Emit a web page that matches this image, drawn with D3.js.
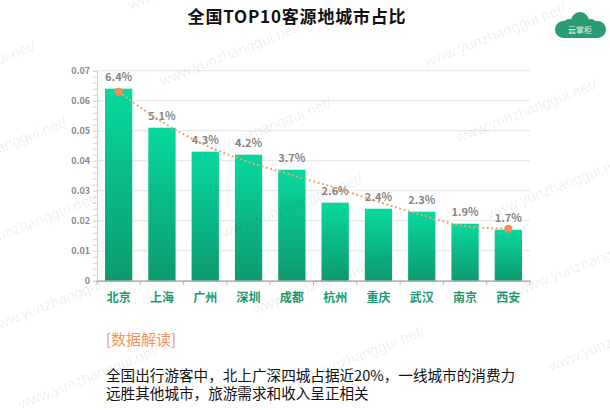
<!DOCTYPE html>
<html>
<head>
<meta charset="utf-8">
<script src="https://cdn.jsdelivr.net/npm/d3@7"></script>
<style>
  body { margin: 0; background: #fff; }
  svg { display: block; font-family: "Noto Sans CJK SC", "Noto Sans", sans-serif; }
</style>
</head>
<body>
<div id="chart"></div>
<script>
// data
var cities = ["北京", "上海", "广州", "深圳", "成都", "杭州", "重庆", "武汉", "南京", "西安"];
var shares = [0.064, 0.051, 0.043, 0.042, 0.037, 0.026, 0.024, 0.023, 0.019, 0.017];
var shareLabels = ["6.4%", "5.1%", "4.3%", "4.2%", "3.7%", "2.6%", "2.4%", "2.3%", "1.9%", "1.7%"];
// dotted trend line (estimated from the curve)
var trend = [0.063, 0.053, 0.0452, 0.0396, 0.0352, 0.031, 0.0263, 0.0219, 0.0182, 0.0173];
var yTicks = [0, 0.01, 0.02, 0.03, 0.04, 0.05, 0.06, 0.07];
var yTickLabels = ["0", "0.01", "0.02", "0.03", "0.04", "0.05", "0.06", "0.07"];

var title = "全国TOP10客源地城市占比";
var noteTitle = "[数据解读]";
var noteLines = ["全国出行游客中，北上广深四城占据近20%，一线城市的消费力",
                 "远胜其他城市，旅游需求和收入呈正相关"];
var watermark = "www.yunzhanggui.net/";

var width = 610, height = 410;
var margin = { top: 70.7, right: 80, bottom: 129.3, left: 97 };

var svg = d3.select("#chart").append("svg")
  .attr("width", width)
  .attr("height", height);

var defs = svg.append("defs");
var grad = defs.append("linearGradient")
  .attr("id", "barGrad")
  .attr("x1", 0).attr("y1", 0).attr("x2", 0).attr("y2", 1);
grad.append("stop").attr("offset", "0%").attr("stop-color", "#07d89f");
grad.append("stop").attr("offset", "100%").attr("stop-color", "#0d9a70");

var x = d3.scaleBand()
  .domain(cities)
  .range([margin.left, width - margin.right])
  .paddingInner(0.37)
  .paddingOuter(0.185);

var y = d3.scaleLinear()
  .domain([0, 0.07])
  .range([height - margin.bottom, margin.top]);

// gridlines
svg.append("g")
  .selectAll("line")
  .data(yTicks.slice(1))
  .enter().append("line")
  .attr("x1", margin.left)
  .attr("x2", width - margin.right)
  .attr("y1", d => y(d))
  .attr("y2", d => y(d))
  .attr("stroke", "#e5e5e5")
  .attr("stroke-width", 1);

// y axis with minor ticks
var yAxis = d3.axisLeft(y)
  .tickValues(d3.range(0, 0.0701, 0.002))
  .tickSize(4)
  .tickFormat("");
var yg = svg.append("g")
  .attr("transform", `translate(${margin.left},0)`)
  .call(yAxis);
yg.select(".domain").attr("stroke", "#d0d0d0");
yg.selectAll(".tick line").attr("stroke", "#d0d0d0");

svg.append("g")
  .selectAll("text")
  .data(yTicks)
  .enter().append("text")
  .attr("x", margin.left - 7)
  .attr("y", d => y(d) + 3)
  .attr("text-anchor", "end")
  .attr("fill", "#8a8a8a")
  .style("font-size", "9px")
  .style("font-weight", "bold")
  .text((d, i) => yTickLabels[i]);

// bars
svg.append("g")
  .selectAll("rect")
  .data(shares)
  .enter().append("rect")
  .attr("x", (d, i) => x(cities[i]))
  .attr("y", d => y(d))
  .attr("width", x.bandwidth())
  .attr("height", d => y(0) - y(d))
  .attr("fill", "url(#barGrad)");

// x axis
var xAxis = d3.axisBottom(x).tickSize(0).tickFormat("");
var xg = svg.append("g")
  .attr("transform", `translate(0,${y(0)})`)
  .call(xAxis);
xg.select(".domain").attr("stroke", "#9a9a9a").attr("stroke-width", 1.3);
var step = x.step();
svg.append("g")
  .selectAll("line")
  .data(d3.range(cities.length + 1))
  .enter().append("line")
  .attr("x1", i => margin.left + i * step)
  .attr("x2", i => margin.left + i * step)
  .attr("y1", y(0))
  .attr("y2", y(0) + 4)
  .attr("stroke", "#b5b5b5");

svg.append("g")
  .selectAll("text")
  .data(cities)
  .enter().append("text")
  .attr("x", d => x(d) + x.bandwidth() / 2)
  .attr("y", y(0) + 21)
  .attr("text-anchor", "middle")
  .attr("fill", "#1b9a72")
  .style("font-size", "12px")
  .style("font-weight", "bold")
  .text(d => d);

// value labels
svg.append("g")
  .selectAll("text")
  .data(shares)
  .enter().append("text")
  .attr("x", (d, i) => x(cities[i]) + x.bandwidth() / 2)
  .attr("y", d => y(d) - 8)
  .attr("text-anchor", "middle")
  .attr("fill", "#858585")
  .style("font-size", "11px")
  .style("font-weight", "bold")
  .text((d, i) => shareLabels[i]);

// trend line
var line = d3.line()
  .x((d, i) => x(cities[i]) + x.bandwidth() / 2)
  .y(d => y(d))
  .curve(d3.curveMonotoneX);

svg.append("path")
  .datum(trend)
  .attr("d", line)
  .attr("fill", "none")
  .attr("stroke", "#f5a46e")
  .attr("stroke-width", 2)
  .attr("stroke-dasharray", "2,2.5");

svg.append("g")
  .selectAll("circle")
  .data([0, trend.length - 1])
  .enter().append("circle")
  .attr("cx", i => x(cities[i]) + x.bandwidth() / 2)
  .attr("cy", i => y(trend[i]))
  .attr("r", 4)
  .attr("fill", "#f58c52");

// title
svg.append("text")
  .attr("x", 297)
  .attr("y", 23)
  .attr("text-anchor", "middle")
  .attr("fill", "#111")
  .style("font-size", "17px")
  .style("font-weight", "bold")
  .style("letter-spacing", "0.8px")
  .text(title);

// notes
svg.append("text")
  .attr("x", 106)
  .attr("y", 345)
  .attr("fill", "#f5925a")
  .style("font-size", "15px")
  .text(noteTitle);

svg.append("g")
  .selectAll("text")
  .data(noteLines)
  .enter().append("text")
  .attr("x", 106)
  .attr("y", (d, i) => 381 + i * 18)
  .attr("fill", "#111")
  .style("font-size", "14.6px")
  .text(d => d);

// logo
var logo = svg.append("g").attr("transform", "translate(553,10)");
logo.append("rect").attr("x", 2).attr("y", 11).attr("width", 51).attr("height", 17).attr("rx", 8.5).attr("fill", "#2a9c73");
logo.append("circle").attr("cx", 27).attr("cy", 11).attr("r", 9).attr("fill", "#2a9c73");
logo.append("circle").attr("cx", 16).attr("cy", 15).attr("r", 6).attr("fill", "#2a9c73");
logo.append("circle").attr("cx", 38).attr("cy", 15).attr("r", 6).attr("fill", "#2a9c73");
logo.append("text")
  .attr("x", 27).attr("y", 23)
  .attr("text-anchor", "middle")
  .attr("fill", "#e8f5ee")
  .style("font-size", "8px")
  .text("云掌柜");

// watermarks on a tiled grid
var marks = [];
for (var k = 0; k < 3; k++) {
  for (var j = -1; j < 5; j++) {
    marks.push([-103 + 265 * k + 31 * j, 105 - 19 * k + 76 * j]);
  }
}
svg.append("g")
  .selectAll("text")
  .data(marks)
  .enter().append("text")
  .attr("transform", d => `translate(${d[0]},${d[1]}) rotate(-21.5)`)
  .attr("fill", "#000")
  .attr("fill-opacity", 0.08)
  .style("font-family", "'Liberation Sans', Arial, sans-serif")
  .style("font-size", "15px")
  .text(watermark);
</script>
</body>
</html>
